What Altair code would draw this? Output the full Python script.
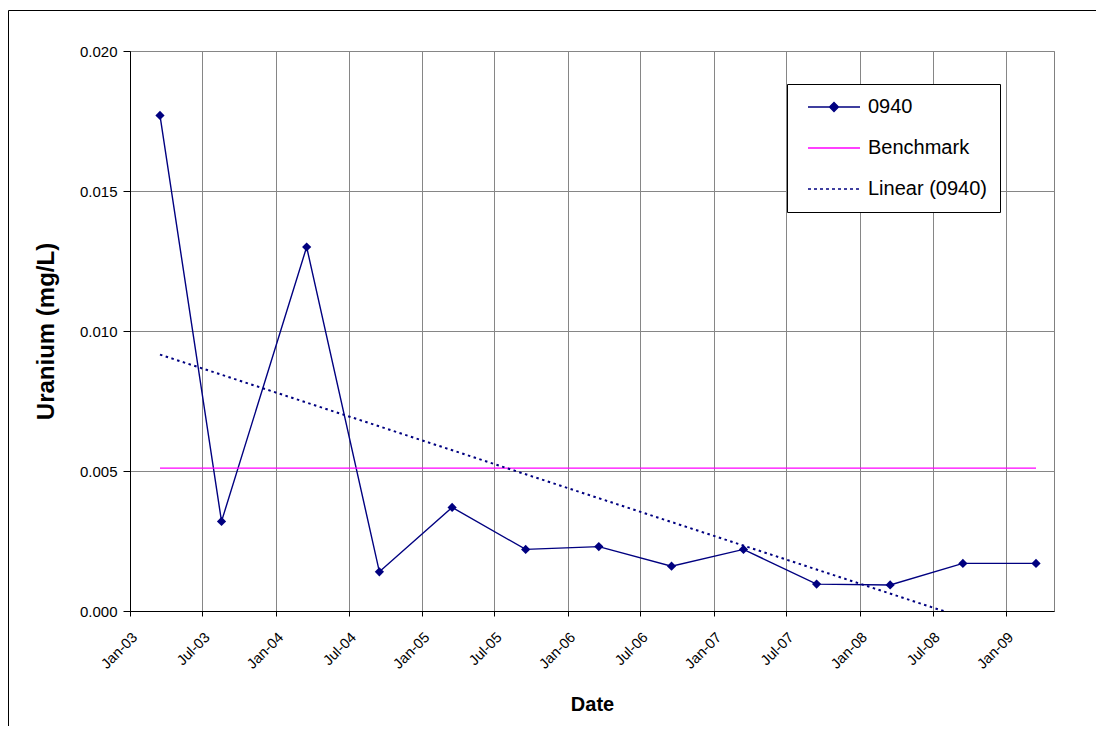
import altair as alt
import pandas as pd

# ---- data ----
sample_dates = ["2003-03-17", "2003-08-18", "2004-03-18", "2004-09-16", "2005-03-17",
                "2005-09-17", "2006-03-19", "2006-09-17", "2007-03-16", "2007-09-15",
                "2008-03-17", "2008-09-15", "2009-03-17"]
uranium = [0.0177, 0.0032, 0.0130, 0.0014, 0.0037, 0.0022, 0.0023, 0.0016,
           0.0022, 0.00096, 0.00093, 0.0017, 0.0017]
benchmark_value = 0.0051

series_names = ["0940", "Benchmark", "Linear (0940)"]
series_colors = ["#000080", "#FF00FF", "#000080"]
series_fills = ["#000080", "transparent", "transparent"]
legend_paths = [
    "M-5.2,0H5.2M-0.9,0L0,-0.9L0.9,0L0,0.9Z",
    "M-5.2,0H5.2",
    "M-5.2,0H-4.6M-4.0,0H-3.4M-2.8,0H-2.2M-1.6,0H-1.0M-0.4,0H0.2"
    "M0.8,0H1.4M2.0,0H2.6M3.2,0H3.8M4.4,0H5.0",
]

y_ticks = [0.0, 0.005, 0.010, 0.015, 0.020]
x_tick_months = [(2003, 1), (2003, 7), (2004, 1), (2004, 7), (2005, 1), (2005, 7),
                 (2006, 1), (2006, 7), (2007, 1), (2007, 7), (2008, 1), (2008, 7),
                 (2009, 1)]
x_start = (2003, 1, 1)
x_end = (2009, 5, 1)

FONT = "Liberation Sans"
NAVY = "#000080"
GRID = "#868686"

df = pd.DataFrame({"date": [d + "T00:00:00" for d in sample_dates], "value": uranium})
bench_df = pd.DataFrame({"date": [sample_dates[0] + "T00:00:00"],
                         "end": [sample_dates[-1] + "T00:00:00"],
                         "value": [benchmark_value]})
legend_df = pd.DataFrame({"series": series_names})
frame_df = pd.DataFrame({"k": [0]})

x_scale = alt.Scale(domain=[alt.DateTime(year=x_start[0], month=x_start[1], date=x_start[2]),
                            alt.DateTime(year=x_end[0], month=x_end[1], date=x_end[2])])
y_scale = alt.Scale(domain=[0, 0.02], nice=False, zero=False)

x_axis = alt.Axis(
    values=[alt.DateTime(year=y, month=m, date=1) for y, m in x_tick_months],
    format="%b-%y", labelAngle=-45, labelAlign="right", labelBaseline="top",
    labelFont=FONT, labelFontSize=14.5, labelColor="black", labelPadding=14,
    labelOverlap=False, labelFlush=False,
    tickSize=5, tickColor="black", domainColor="black", domainWidth=1,
    grid=True, gridColor=GRID, gridWidth=1,
    title="Date", titleFont=FONT, titleFontSize=20, titleFontWeight="bold",
    titleColor="black", titleX=462, titleY=93, titleAlign="center",
    titleBaseline="middle",
)
y_axis = alt.Axis(
    values=y_ticks, format=".3f",
    labelFont=FONT, labelFontSize=15, labelColor="black", labelPadding=6,
    tickSize=7, tickColor="black", domainColor="black", domainWidth=1,
    grid=True, gridColor=GRID, gridWidth=1,
    title="Uranium (mg/L)", titleFont=FONT, titleFontSize=24, titleFontWeight="bold",
    titleColor="black", titleAngle=-90, titleX=-84, titleY=280,
    titleAlign="center", titleBaseline="middle",
)

frame = alt.Chart(frame_df).mark_rect(fill="transparent", stroke="black", strokeWidth=1).encode(
    x=alt.value(-121.5), x2=alt.value(1200), y=alt.value(-40.5), y2=alt.value(900)
)

line = alt.Chart(df).mark_line(color=NAVY, strokeWidth=1.4).encode(
    x=alt.X("date:T", scale=x_scale, axis=x_axis, title="Date"),
    y=alt.Y("value:Q", scale=y_scale, axis=y_axis, title="Uranium (mg/L)"),
)

points = alt.Chart(df).mark_point(shape="diamond", filled=True, size=85, color=NAVY,
                                  opacity=1).encode(
    x=alt.X("date:T", title="Date"),
    y=alt.Y("value:Q", title="Uranium (mg/L)"),
)

bench = alt.Chart(bench_df).mark_rule(color="#FF00FF", strokeWidth=1.2).encode(
    x=alt.X("date:T", title="Date"), x2="end:T",
    y=alt.Y("value:Q", title="Uranium (mg/L)"),
)

trend = (
    alt.Chart(df)
    .transform_calculate(t="toDate(datum.date)")
    .transform_regression("t", "value", method="linear", as_=["date", "value"])
    .mark_line(color=NAVY, strokeDash=[2.5, 3.5], strokeWidth=2, clip=True)
    .encode(x=alt.X("date:T", title="Date"), y=alt.Y("value:Q", title="Uranium (mg/L)"))
)

leg = alt.Legend(
    title=None, orient="none", legendX=657, legendY=33, direction="vertical",
    symbolSize=100, symbolStrokeWidth=1.3, symbolOffset=24,
    labelFont=FONT, labelFontSize=20, labelColor="black", labelOffset=24,
    rowPadding=21, padding=13, strokeColor="black", fillColor="white",
)
legend_layer = (
    alt.Chart(legend_df)
    .transform_filter("false")
    .mark_point(opacity=1)
    .encode(
        fill=alt.Fill("series:N", scale=alt.Scale(domain=series_names, range=series_fills), legend=leg),
        stroke=alt.Stroke("series:N", scale=alt.Scale(domain=series_names, range=series_colors), legend=leg),
        shape=alt.Shape("series:N", scale=alt.Scale(domain=series_names, range=legend_paths), legend=leg),
    )
)

chart = (
    alt.layer(frame, line, bench, trend, points, legend_layer)
    .properties(
        width=924, height=560,
        autosize=alt.AutoSizeParams(type="none"),
        padding={"left": 122, "top": 43, "right": 42, "bottom": 115},
        background="white",
    )
    .configure_view(stroke="#808080", strokeWidth=1)
)

chart.save("out.html", embed_options={"renderer": "svg", "actions": False})
